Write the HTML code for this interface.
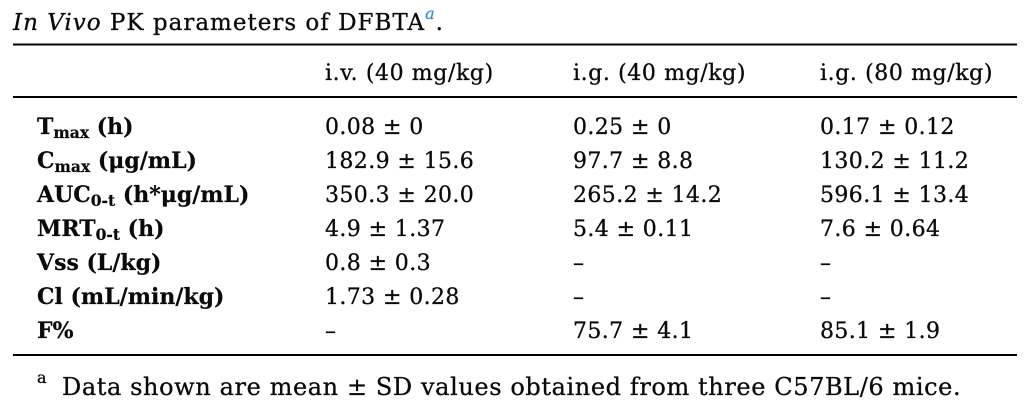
<!DOCTYPE html>
<html>
<head>
<meta charset="utf-8">
<style>
  html,body{margin:0;padding:0;background:#fff;}
  body{width:1036px;height:416px;overflow:hidden;}
  svg{display:block;}
  .t{font-family:"DejaVu Serif","Liberation Serif",serif;fill:#0a0a0a;stroke:#0a0a0a;stroke-width:0.3px;}
  .v{font-size:22px;letter-spacing:0.4px;}
  .h{font-size:22px;letter-spacing:0.6px;}
  .l{font-size:22px;font-weight:bold;letter-spacing:0px;stroke-width:0.2px;}
</style>
</head>
<body>
<svg width="1036" height="416" viewBox="0 0 1036 416" xmlns="http://www.w3.org/2000/svg">
  <rect x="0" y="0" width="1036" height="416" fill="#fff"/>
  <!-- Title -->
  <text class="t" x="13" y="30" font-size="23" letter-spacing="1.0"><tspan font-style="italic">In Vivo</tspan> PK parameters of DFBTA<tspan font-style="italic" font-size="16" fill="#3d8fd1" stroke="#3d8fd1" dy="-11">a</tspan><tspan dy="11">.</tspan></text>

  <!-- Rules -->
  <rect x="13" y="43.5" width="1004" height="2" fill="#000"/>
  <rect x="13" y="96" width="1004" height="2" fill="#000"/>
  <rect x="13" y="354" width="1004" height="2" fill="#000"/>

  <!-- Header -->
  <text class="t h" x="325" y="80">i.v. (40 mg/kg)</text>
  <text class="t h" x="573" y="80">i.g. (40 mg/kg)</text>
  <text class="t h" x="820" y="80">i.g. (80 mg/kg)</text>

  <!-- Row labels -->
  <text class="t l" x="37" y="134">T<tspan font-size="15.5" dy="4">max</tspan><tspan dy="-4"> (h)</tspan></text>
  <text class="t l" x="37" y="168">C<tspan font-size="15.5" dy="4">max</tspan><tspan dy="-4"> (μg/mL)</tspan></text>
  <text class="t l" x="37" y="202">AUC<tspan font-size="15.5" dy="4">0-t</tspan><tspan dy="-4"> (h*μg/mL)</tspan></text>
  <text class="t l" x="37" y="236">MRT<tspan font-size="15.5" dy="4">0-t</tspan><tspan dy="-4"> (h)</tspan></text>
  <text class="t l" x="37" y="270">Vss (L/kg)</text>
  <text class="t l" x="37" y="304">Cl (mL/min/kg)</text>
  <text class="t l" x="37" y="338">F%</text>

  <!-- Column 1 -->
  <text class="t v" x="325" y="134">0.08 ± 0</text>
  <text class="t v" x="325" y="168">182.9 ± 15.6</text>
  <text class="t v" x="325" y="202">350.3 ± 20.0</text>
  <text class="t v" x="325" y="236">4.9 ± 1.37</text>
  <text class="t v" x="325" y="270">0.8 ± 0.3</text>
  <text class="t v" x="325" y="304">1.73 ± 0.28</text>
  <text class="t v" x="325" y="338">–</text>

  <!-- Column 2 -->
  <text class="t v" x="573" y="134">0.25 ± 0</text>
  <text class="t v" x="573" y="168">97.7 ± 8.8</text>
  <text class="t v" x="573" y="202">265.2 ± 14.2</text>
  <text class="t v" x="573" y="236">5.4 ± 0.11</text>
  <text class="t v" x="573" y="270">–</text>
  <text class="t v" x="573" y="304">–</text>
  <text class="t v" x="573" y="338">75.7 ± 4.1</text>

  <!-- Column 3 -->
  <text class="t v" x="820" y="134">0.17 ± 0.12</text>
  <text class="t v" x="820" y="168">130.2 ± 11.2</text>
  <text class="t v" x="820" y="202">596.1 ± 13.4</text>
  <text class="t v" x="820" y="236">7.6 ± 0.64</text>
  <text class="t v" x="820" y="270">–</text>
  <text class="t v" x="820" y="304">–</text>
  <text class="t v" x="820" y="338">85.1 ± 1.9</text>

  <!-- Footnote -->
  <text class="t" x="37" y="383" font-size="16">a</text>
  <text class="t" x="62" y="395" font-size="24" letter-spacing="0.6">Data shown are mean ± SD values obtained from three C57BL/6 mice.</text>
</svg>
</body>
</html>
